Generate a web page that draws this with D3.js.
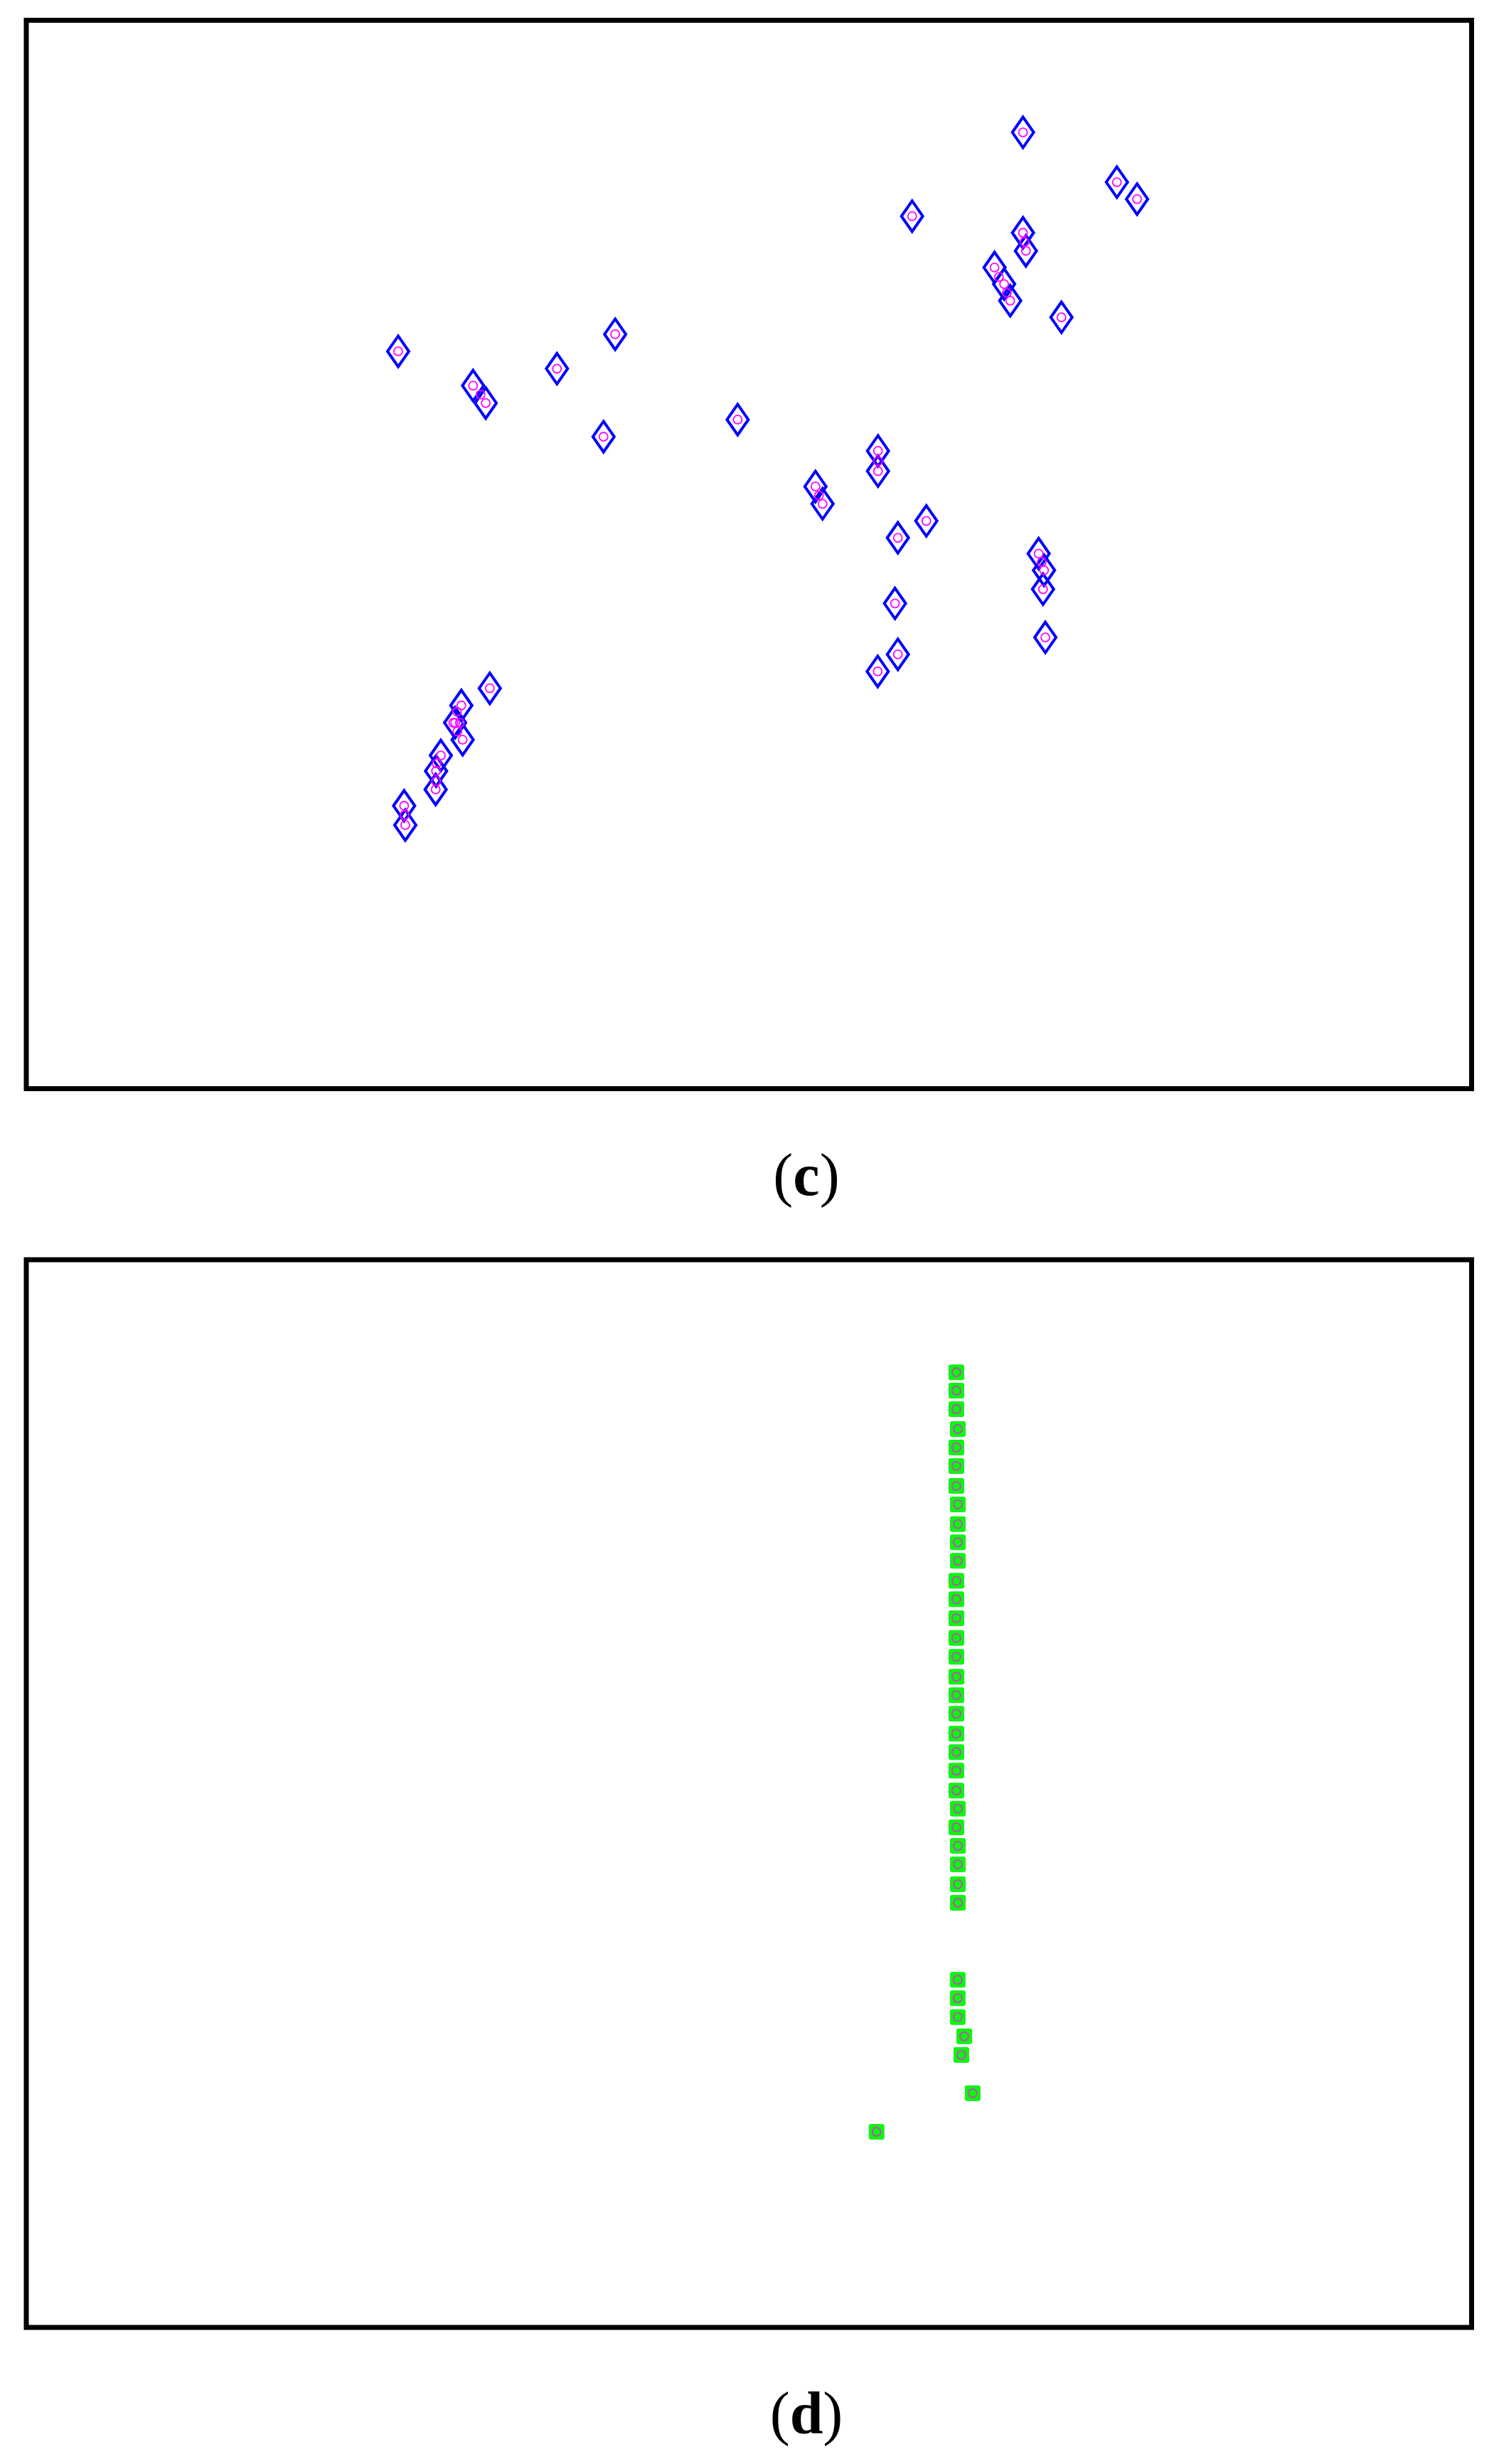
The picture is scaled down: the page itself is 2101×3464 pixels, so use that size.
<!DOCTYPE html>
<html>
  <head>
    <meta charset="UTF-8" />
    <title>(c) (d)</title>
    <script src="https://d3js.org/d3.v7.min.js"></script>
    <style>
      body { margin: 0; background: #fff; }
    </style>
  </head>
  <body>
    <div id="chart"></div>
    <script>
      ///////////////////////data///////////////////////////////
      // panel (c): reference points (blue diamonds), x / y in 0..100
      const refC = [
        [69.09, 89.51], [61.45, 81.66], [75.56, 84.85], [76.95, 83.26],
        [69.09, 80.11], [69.29, 78.42], [67.13, 76.86], [67.79, 75.31],
        [68.21, 73.75], [71.74, 72.2], [26.04, 69.01], [31.2, 65.81],
        [32.07, 64.17], [36.98, 67.39], [40.99, 70.61], [40.19, 61.02],
        [49.43, 62.62], [54.79, 56.36], [55.28, 54.74], [59.1, 59.69],
        [59.1, 57.8], [60.47, 51.56], [62.43, 53.14], [60.27, 45.42],
        [60.47, 40.65], [59.08, 39.05], [70.17, 50.08], [70.54, 48.52],
        [70.47, 46.75], [70.63, 42.24], [32.35, 37.47], [30.39, 35.87],
        [29.96, 34.25], [30.48, 32.66], [28.98, 31.19], [28.65, 29.73],
        [28.62, 28.0], [26.45, 26.48], [26.53, 24.67],
      ];
      // panel (c): extra estimated points (magenta circles) between the diamonds
      const midC = [
        [69.19, 79.26], [67.43, 75.98], [67.98, 74.49], [31.72, 64.97],
        [55.03, 55.51], [59.1, 58.73], [70.38, 49.3], [30.09, 35.27],
        [29.83, 34.25], [30.29, 34.25], [30.12, 33.44], [28.69, 30.44],
        [28.65, 28.77], [26.48, 25.6],
      ];
      const estC = refC.concat(midC);

      // panel (d): green squares with magenta circles
      const pointsD = [
        [64.5, 89.45], [64.5, 87.74], [64.5, 86.01], [64.6, 84.14],
        [64.5, 82.41], [64.5, 80.68], [64.5, 78.81], [64.6, 77.08],
        [64.6, 75.24], [64.6, 73.53], [64.6, 71.8], [64.5, 69.93],
        [64.5, 68.2], [64.5, 66.42], [64.5, 64.58], [64.5, 62.81],
        [64.5, 60.94], [64.5, 59.21], [64.5, 57.48], [64.5, 55.61],
        [64.5, 53.88], [64.5, 52.15], [64.5, 50.28], [64.6, 48.59],
        [64.5, 46.84], [64.6, 45.1], [64.6, 43.37], [64.6, 41.51],
        [64.6, 39.77], [64.59, 32.56], [64.59, 30.83], [64.59, 29.07],
        [65.04, 27.27], [64.84, 25.52], [65.62, 21.94], [59.0, 18.32],
      ];

      const labels = ["c", "d"];

      ///////////////////////layout///////////////////////////////
      const W = 2101, H = 3464;
      // plot area (scale range) and frame box for each panel
      const panels = [
        { x: 28.5, y: 28.5, w: 2041, h: 1502, fx: 37, base: 1680 },
        { x: 28.5, y: 1771, w: 2041, h: 1501, fx: 37, base: 3421 },
      ];

      const svg = d3.select("#chart").append("svg")
        .attr("width", W).attr("height", H)
        .style("background", "#fff");

      function panel(p, label) {
        const x = d3.scaleLinear().domain([0, 100]).range([p.x, p.x + p.w]);
        const y = d3.scaleLinear().domain([0, 100]).range([p.y + p.h, p.y]);

        const g = svg.append("g");
        g.append("rect")
          .attr("x", p.fx).attr("y", p.y)
          .attr("width", p.x + p.w - p.fx).attr("height", p.h)
          .attr("fill", "none")
          .attr("stroke", "#000")
          .attr("stroke-width", 7);

        const t = g.append("text")
          .attr("x", 1134).attr("y", p.base)
          .attr("text-anchor", "middle")
          .style("font-family", "'Liberation Serif', 'DejaVu Serif', serif")
          .style("font-size", "84px")
          .attr("fill", "#000");
        t.append("tspan").text("(");
        t.append("tspan").style("font-weight", "bold").text(label);
        t.append("tspan").text(")");

        return { g, x, y };
      }

      // (c)
      const c = panel(panels[0], labels[0]);
      c.g.selectAll(".dia").data(refC).join("path")
        .attr("class", "dia")
        .attr("d", "M0,-21.5L15,0L0,21.5L-15,0Z")
        .attr("transform", (d) => `translate(${c.x(d[0])},${c.y(d[1])})`)
        .attr("fill", "none")
        .attr("stroke", "#0000ff")
        .attr("stroke-width", 4)
        .attr("stroke-linejoin", "miter");
      c.g.selectAll(".est").data(estC).join("circle")
        .attr("class", "est")
        .attr("cx", (d) => c.x(d[0]))
        .attr("cy", (d) => c.y(d[1]))
        .attr("r", 6)
        .attr("fill", "none")
        .attr("stroke", "#ff00ff")
        .attr("stroke-width", 1.8);

      // (d)
      const dd = panel(panels[1], labels[1]);
      dd.g.selectAll(".sq").data(pointsD).join("rect")
        .attr("class", "sq")
        .attr("x", (d) => dd.x(d[0]) - 10.5)
        .attr("y", (d) => dd.y(d[1]) - 10.5)
        .attr("width", 21).attr("height", 21)
        .attr("rx", 2)
        .attr("fill", "#00ff00")
        .attr("stroke", "#22dd33")
        .attr("stroke-width", 1);
      dd.g.selectAll(".ring").data(pointsD).join("circle")
        .attr("class", "ring")
        .attr("cx", (d) => dd.x(d[0]))
        .attr("cy", (d) => dd.y(d[1]))
        .attr("r", 6)
        .attr("fill", "none")
        .attr("stroke", "#d040d0")
        .attr("stroke-width", 2);
    </script>
  </body>
</html>
